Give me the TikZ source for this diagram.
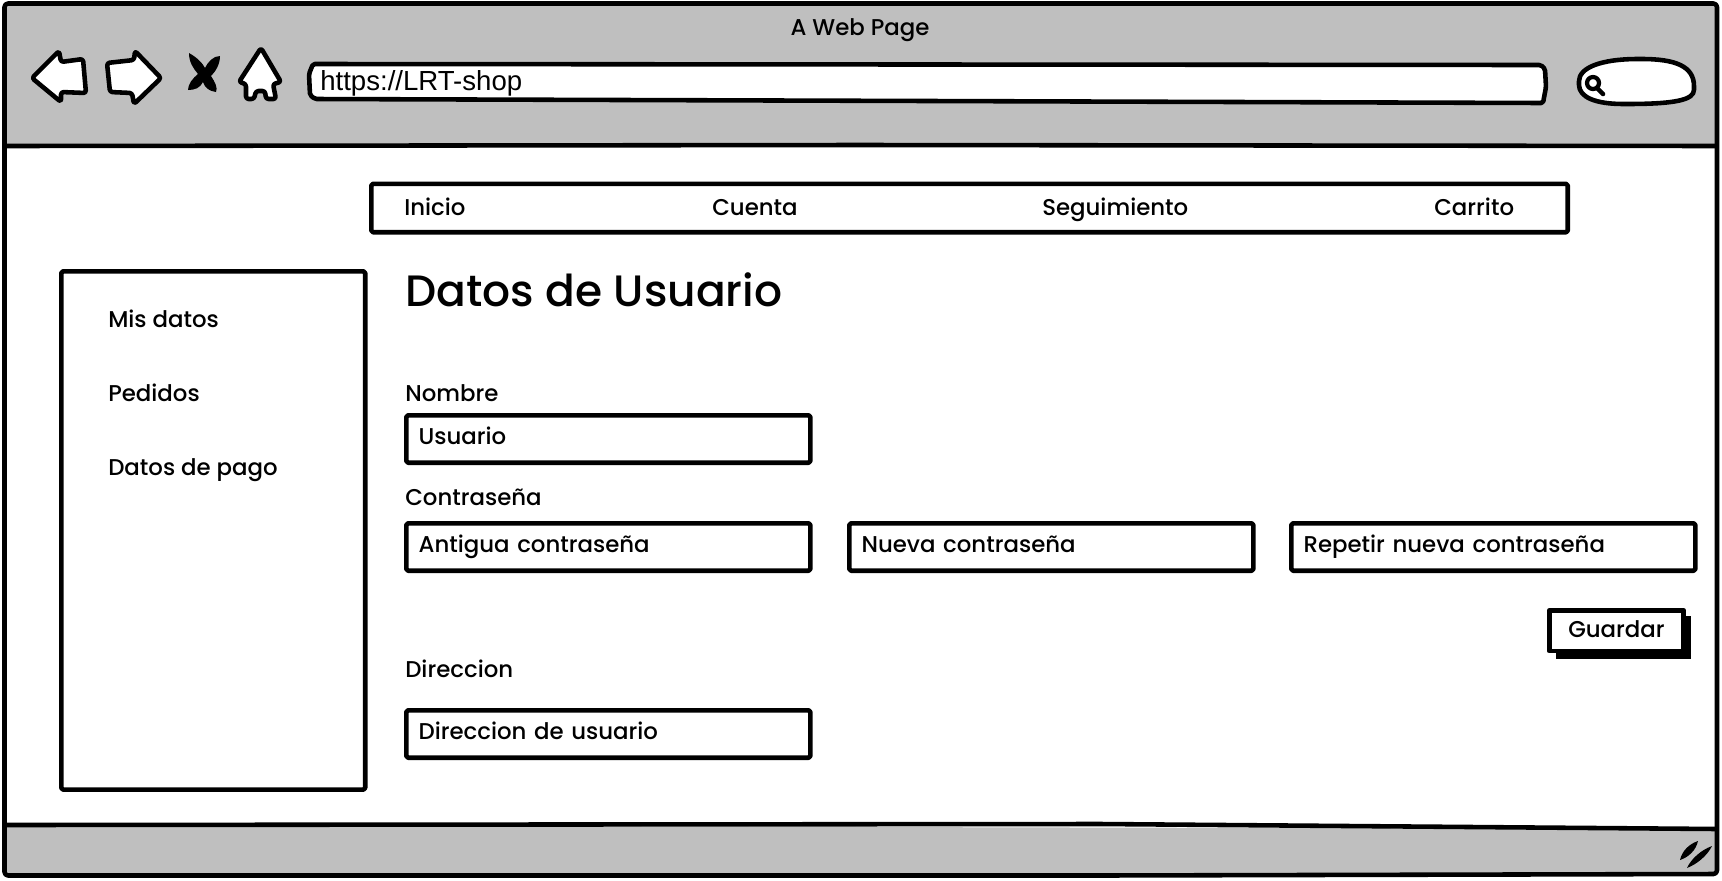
\documentclass[tikz,border=0pt]{standalone}
\usepackage{fontspec}
\setmainfont{Poppins Medium}
\newfontfamily\urlfont{Liberation Sans}
\usetikzlibrary{positioning}
\definecolor{chrome}{gray}{0.75}
\begin{document}
\begin{tikzpicture}[x=0.02cm,y=-0.02cm]
\tikzset{
  every path/.style={line width=2.6pt,line join=round},
  frame/.style={draw,fill=white,rounded corners=1pt},
  caption/.style={font=\fontsize{13}{15}\selectfont,anchor=west,inner sep=0pt,text height=9.5pt,text depth=3pt},
  field/.style={frame,anchor=north west,minimum height=27pt,inner xsep=7pt,inner ysep=0pt,
    text width=216pt,align=left,text height=9.5pt,text depth=3pt,font=\fontsize{13}{15}\selectfont},
  icon/.style={draw,fill=white,rounded corners=1.5pt}
}
\useasboundingbox (0,0) rectangle (1722,880);

%WINDOW
\fill[white] (0,0) rectangle (1722,880);
\fill[chrome] (5,4) -- (1717,4) -- (1717,146) -- (5,146) -- cycle;
\fill[chrome] (5,825) -- (1717,829) -- (1717,875) -- (5,875) -- cycle;
\draw (5,146) -- (860,145) -- (1717,146);
\draw (5,825) -- (1100,824) -- (1717,829);
\draw[rounded corners=2pt] (4.5,3.5) -- (908,3.5) -- (1717,3.5) -- (1717,874) -- (1100,875.5) -- (4.5,875.5) -- cycle;
\node[caption,anchor=center] (PAGE) at (860,30) {A Web Page};

%TOOLBAR
\draw[icon] (32,78) -- (59,51) -- (61,62) -- (83,59) -- (86,93) -- (61,92) -- (61,102) -- cycle;
\draw[icon] (107,63) -- (134,60) -- (135,51) -- (161,78) -- (134,104) -- (132,93) -- (110,92) -- cycle;
\fill (189,53) .. controls (198,58) and (203,64) .. (205,68)
  .. controls (208,62) and (213,56) .. (220,56)
  .. controls (220,65) and (215,72) .. (211,76)
  .. controls (215,82) and (218,88) .. (216,92)
  .. controls (209,91) and (205,88) .. (203,82)
  .. controls (200,88) and (195,90) .. (188,90)
  .. controls (188,84) and (193,78) .. (198,74)
  .. controls (193,68) and (189,62) .. (189,53) -- cycle;
\draw[icon] (261,48) -- (281,82) -- (273,84) -- (276,99) -- (266,99) -- (265,91) -- (256,91) -- (254,99) -- (246,99) -- (246,84) -- (239,82) -- cycle;
\draw[frame] (313,64) -- (1541,65) -- (1545,69) -- (1546,87) -- (1543,103) -- (315,99) -- (310,95) -- (309,74) -- cycle;
\node[anchor=west,inner sep=0pt,font=\urlfont\fontsize{15.7}{18}\selectfont,text height=10pt,text depth=3pt] (URL) at (318,84) {https://LRT-shop};
\draw[frame] (1579,83) .. controls (1579,68) and (1600,59) .. (1640,59)
  .. controls (1675,59) and (1694,66) .. (1694,88)
  .. controls (1694,100) and (1675,104) .. (1625,104)
  .. controls (1595,104) and (1579,97) .. (1579,83) -- cycle;
\draw[line width=2.4pt] (1593,83) circle (6);
\draw[line width=2.6pt,line cap=round] (1597,88) -- (1603,94);

%MENU
\node[frame,anchor=north west,minimum width=681pt,minimum height=27.6pt,inner sep=0pt] (MENU) at (369,181.5) {};
\node[caption] (INICIO) at (402,210) {Inicio};
\node[caption] (CUENTA) at (710,210) {Cuenta};
\node[caption] (SEGUIMIENTO) at (1040,210) {Seguimiento};
\node[caption] (CARRITO) at (1432,210) {Carrito};

%SIDEBAR
\node[frame,anchor=north west,minimum width=173pt,minimum height=295pt,inner sep=0pt] (SIDE) at (59,269) {};
\node[caption] (DATOS) at (106,322) {Mis datos};
\node[caption] (PEDIDOS) at (106,396) {Pedidos};
\node[caption] (PAGO) at (106,470) {Datos de pago};

%FORM
\node[anchor=west,inner sep=0pt,font=\fontsize{25}{30}\selectfont,text height=18pt,text depth=5pt] (TITLE) at (403,295) {Datos de Usuario};
\node[caption] (LNOMBRE) at (403,396) {Nombre};
\node[caption] (LPASS) at (403,500) {Contraseña};
\node[caption] (LDIR) at (403,672) {Direccion};
\node[field] (USUARIO) at (404,413) {Usuario};
\node[field] (OLDPASS) at (404,521) {Antigua contraseña};
\node[field] (NEWPASS) at (847,521) {Nueva contraseña};
\node[field] (REPPASS) at (1289,521) {Repetir nueva contraseña};
\node[field] (DIR) at (404,708) {Direccion de usuario};

%BUTTON
\fill (1556,616) rectangle (1691,659);
\node[frame,rounded corners=0pt,anchor=north west,minimum width=76.5pt,minimum height=23.2pt,inner sep=0pt,text height=9.5pt,text depth=1.2pt,font=\fontsize{13}{15}\selectfont] (GUARDAR) at (1547,608) {Guardar};

%RESIZE GRIP
\fill (1680,860) .. controls (1682,851) and (1689,844) .. (1698,841) .. controls (1696,850) and (1689,857) .. (1680,860) -- cycle;
\fill (1687,868) .. controls (1691,859) and (1701,850) .. (1712,846) .. controls (1707,856) and (1697,864) .. (1687,868) -- cycle;
\end{tikzpicture}
\end{document}
